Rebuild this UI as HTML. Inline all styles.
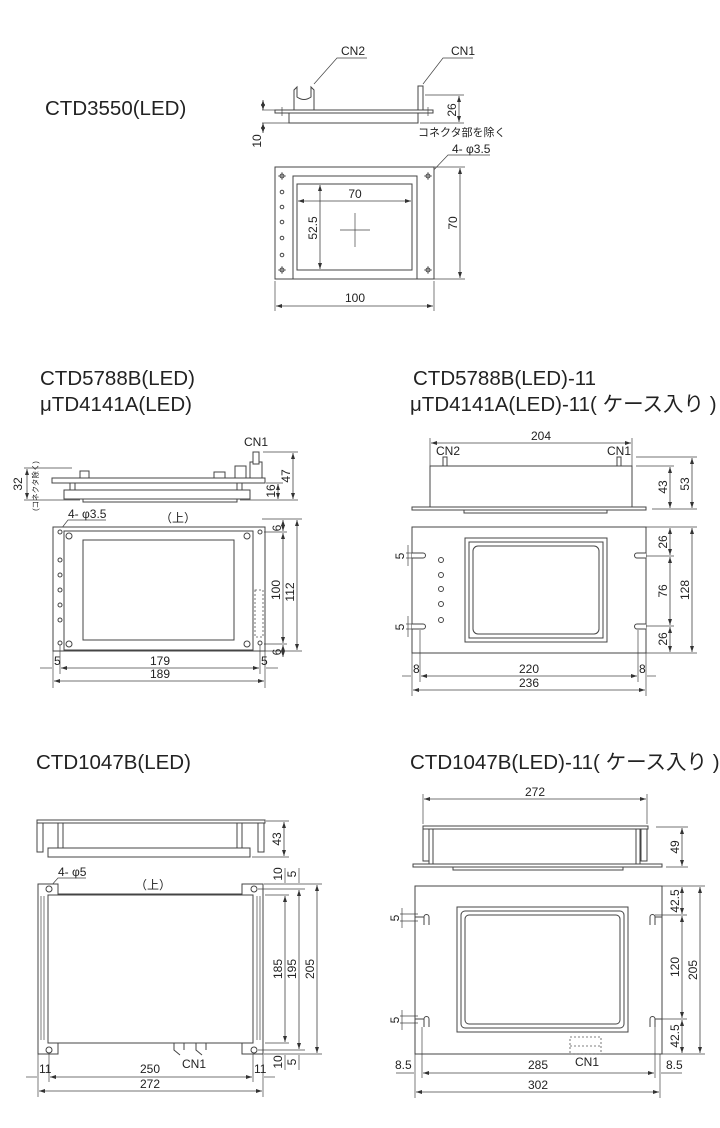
<!DOCTYPE html>
<html><head><meta charset="utf-8"><style>
html,body{margin:0;padding:0;background:#fff;}
svg{display:block;}
text{font-family:"Liberation Sans","Noto Sans CJK JP",sans-serif;fill:#222;}
.t{font-size:20.5px;}
.d{font-size:12px;}
.s{fill:none;stroke:#444;stroke-width:1;}
.f{fill:#fff;stroke:#444;stroke-width:1;}
.dim{stroke:#444;stroke-width:0.8;fill:none;marker-start:url(#a);marker-end:url(#a);}
.ln{stroke:#444;stroke-width:0.7;fill:none;}
.dash{fill:none;stroke:#555;stroke-width:0.8;stroke-dasharray:2 2;}
</style></head><body>
<svg width="720" height="1128" viewBox="0 0 720 1128" xmlns="http://www.w3.org/2000/svg">
<defs><marker id="a" markerWidth="6" markerHeight="6" refX="6" refY="3" orient="auto-start-reverse" markerUnits="userSpaceOnUse"><path d="M0,1 L6,3 L0,5z" fill="#333"/></marker></defs>

<!-- Titles -->
<text class="t" x="45" y="115">CTD3550(LED)</text>
<text class="t" x="40" y="385">CTD5788B(LED)</text>
<text class="t" x="40" y="411">μTD4141A(LED)</text>
<text class="t" x="413" y="385">CTD5788B(LED)-11</text>
<text class="t" x="410" y="411">μTD4141A(LED)-11( ケース入り )</text>
<text class="t" x="36" y="769">CTD1047B(LED)</text>
<text class="t" x="410" y="769">CTD1047B(LED)-11( ケース入り )</text>

<!-- ===== Section 1 ===== -->
<rect class="f" x="275" y="110" width="158" height="3"/>
<rect class="f" x="289" y="113" width="129" height="10"/>
<path class="s" d="M294,110 V90 L297,87 V97 Q304,102 311,97 V87 L314,90 V110"/>
<rect class="f" x="418" y="86" width="5" height="24"/>
<line class="ln" x1="282" y1="107" x2="282" y2="116"/><line class="ln" x1="428" y1="107" x2="428" y2="116"/>
<text class="d" x="341" y="55">CN2</text>
<polyline class="ln" points="367,58 337,58 314,84"/>
<text class="d" x="451" y="55">CN1</text>
<polyline class="ln" points="473,58 443,58 423,84"/>
<line class="ln" x1="425" y1="95" x2="464" y2="95"/><line class="ln" x1="420" y1="123" x2="464" y2="123"/>
<line class="dim" x1="459" y1="96" x2="459" y2="122"/>
<text class="d" transform="translate(456,110) rotate(-90)" text-anchor="middle">26</text>
<line class="ln" x1="262" y1="110" x2="275" y2="110"/><line class="ln" x1="262" y1="123" x2="289" y2="123"/>
<line class="dim" x1="263" y1="100" x2="263" y2="110"/><line class="dim" x1="263" y1="133" x2="263" y2="123"/>
<text class="d" transform="translate(261,141) rotate(-90)" text-anchor="middle">10</text>
<text x="418" y="136" style="font-size:11px">コネクタ部を除く</text>
<text class="d" x="452" y="153">4- φ3.5</text>
<polyline class="ln" points="490,155 448,155 429,175"/>
<rect class="f" x="275" y="167" width="159" height="112"/>
<rect class="s" x="293" y="176" width="124" height="103"/>
<rect class="s" x="297" y="184" width="115" height="86" style="fill:#fff"/>
<g class="ln"><line x1="340" y1="230" x2="370" y2="230"/><line x1="355" y1="213" x2="355" y2="247"/></g>
<g class="s">
<circle cx="282" cy="176" r="2"/><circle cx="282" cy="270" r="2"/><circle cx="428" cy="176" r="2"/><circle cx="428" cy="270" r="2"/>
<circle cx="282" cy="192" r="1.8"/><circle cx="282" cy="207" r="1.8"/><circle cx="282" cy="222" r="1.8"/><circle cx="282" cy="238" r="1.8"/><circle cx="282" cy="255" r="1.8"/>
</g>
<g class="ln"><line x1="278" y1="176" x2="286" y2="176"/><line x1="282" y1="172" x2="282" y2="180"/><line x1="278" y1="270" x2="286" y2="270"/><line x1="282" y1="266" x2="282" y2="274"/><line x1="424" y1="176" x2="432" y2="176"/><line x1="428" y1="172" x2="428" y2="180"/><line x1="424" y1="270" x2="432" y2="270"/><line x1="428" y1="266" x2="428" y2="274"/></g>
<line class="dim" x1="298" y1="201" x2="411" y2="201"/><text class="d" x="355" y="198" text-anchor="middle">70</text>
<line class="dim" x1="320" y1="185" x2="320" y2="269"/><text class="d" transform="translate(317,228) rotate(-90)" text-anchor="middle">52.5</text>
<line class="ln" x1="434" y1="167" x2="465" y2="167"/><line class="ln" x1="434" y1="279" x2="465" y2="279"/>
<line class="dim" x1="460" y1="168" x2="460" y2="278"/><text class="d" transform="translate(457,223) rotate(-90)" text-anchor="middle">70</text>
<line class="ln" x1="275" y1="281" x2="275" y2="311"/><line class="ln" x1="434" y1="281" x2="434" y2="311"/>
<line class="dim" x1="276" y1="306" x2="433" y2="306"/><text class="d" x="355" y="302" text-anchor="middle">100</text>

<!-- ===== Section 2 left ===== -->
<rect class="f" x="52" y="478" width="213" height="5"/>
<rect class="f" x="64" y="490" width="186" height="9"/>
<rect class="f" x="83" y="499" width="154" height="3"/>
<rect class="f" x="70" y="483" width="5" height="7"/><rect class="f" x="237" y="483" width="5" height="7"/>
<rect class="f" x="80" y="471" width="9" height="7"/><rect class="f" x="214" y="472" width="11" height="6"/>
<rect class="f" x="235" y="466" width="11" height="12"/>
<rect class="f" x="250" y="462" width="12" height="16"/><rect class="f" x="253" y="452" width="6" height="12"/>
<text class="d" x="244" y="446">CN1</text>
<line class="ln" x1="263" y1="452" x2="298" y2="452"/><line class="ln" x1="240" y1="500" x2="298" y2="500"/>
<line class="ln" x1="266" y1="483" x2="283" y2="483"/>
<line class="dim" x1="293" y1="453" x2="293" y2="499"/><text class="d" transform="translate(290,476) rotate(-90)" text-anchor="middle">47</text>
<line class="dim" x1="278" y1="484" x2="278" y2="499"/><text class="d" transform="translate(275,491) rotate(-90)" text-anchor="middle">16</text>
<line class="ln" x1="24" y1="468" x2="72" y2="468"/><line class="ln" x1="24" y1="500" x2="80" y2="500"/>
<line class="dim" x1="27" y1="469" x2="27" y2="499"/>
<text class="d" transform="translate(22,484) rotate(-90)" text-anchor="middle">32</text>
<text transform="translate(38,486) rotate(-90)" text-anchor="middle" style="font-size:7.5px">(コネクタ除く)</text>
<text class="d" x="68" y="518">4- φ3.5</text>
<polyline class="ln" points="106,520 68,520 61,529"/>
<text class="d" x="160" y="522">（上）</text>
<rect class="f" x="53" y="527" width="212" height="124"/>
<rect class="s" x="64" y="531" width="189" height="119"/>
<rect class="s" x="83" y="540" width="151" height="100" style="fill:#fff"/>
<g class="s">
<circle cx="69" cy="536" r="3"/><circle cx="247" cy="536" r="3"/><circle cx="69" cy="644" r="3"/><circle cx="247" cy="644" r="3"/>
<circle cx="60" cy="532" r="2"/><circle cx="60" cy="560" r="2"/><circle cx="60" cy="575" r="2"/><circle cx="60" cy="590" r="2"/><circle cx="60" cy="605" r="2"/><circle cx="60" cy="620" r="2"/><circle cx="60" cy="643" r="2"/>
<circle cx="260" cy="532" r="2"/><circle cx="260" cy="643" r="2"/>
</g>
<rect class="dash" x="255" y="590" width="8" height="47"/>
<line class="ln" x1="262" y1="519" x2="302" y2="519"/><line class="ln" x1="264" y1="532" x2="287" y2="532"/>
<line class="ln" x1="264" y1="644" x2="287" y2="644"/><line class="ln" x1="262" y1="651" x2="302" y2="651"/>
<line class="dim" x1="283" y1="520" x2="283" y2="531"/><text class="d" transform="translate(281,528) rotate(-90)" text-anchor="middle">6</text>
<line class="dim" x1="283" y1="533" x2="283" y2="643"/><text class="d" transform="translate(280,590) rotate(-90)" text-anchor="middle">100</text>
<line class="dim" x1="283" y1="645" x2="283" y2="657"/><text class="d" transform="translate(281,652) rotate(-90)" text-anchor="middle">6</text>
<line class="dim" x1="297" y1="520" x2="297" y2="650"/><text class="d" transform="translate(294,592) rotate(-90)" text-anchor="middle">112</text>
<line class="ln" x1="53" y1="651" x2="53" y2="688"/><line class="ln" x1="60" y1="645" x2="60" y2="674"/><line class="ln" x1="260" y1="645" x2="260" y2="674"/><line class="ln" x1="265" y1="651" x2="265" y2="688"/>
<line class="dim" x1="61" y1="668" x2="259" y2="668"/><text class="d" x="160" y="665" text-anchor="middle">179</text>
<line class="ln" x1="40" y1="668" x2="52" y2="668"/><line class="ln" x1="266" y1="668" x2="278" y2="668"/>
<text class="d" x="54" y="665">5</text><text class="d" x="261" y="665">5</text>
<line class="dim" x1="54" y1="681" x2="264" y2="681"/><text class="d" x="160" y="678" text-anchor="middle">189</text>

<!-- ===== Section 2 right ===== -->
<line class="ln" x1="430" y1="438" x2="430" y2="466"/><line class="ln" x1="632" y1="438" x2="632" y2="466"/>
<line class="dim" x1="431" y1="443" x2="631" y2="443"/><text class="d" x="541" y="440" text-anchor="middle">204</text>
<text class="d" x="436" y="455">CN2</text><text class="d" x="607" y="455">CN1</text>
<rect class="f" x="443" y="457" width="4" height="9"/><rect class="f" x="617" y="457" width="4" height="9"/>
<rect class="f" x="430" y="466" width="202" height="41"/>
<rect class="f" x="412" y="507" width="234" height="3"/>
<rect class="f" x="464" y="510" width="143" height="3"/>
<line class="ln" x1="636" y1="457" x2="697" y2="457"/><line class="ln" x1="636" y1="466" x2="674" y2="466"/><line class="ln" x1="652" y1="509" x2="697" y2="509"/>
<line class="dim" x1="670" y1="467" x2="670" y2="508"/><text class="d" transform="translate(667,487) rotate(-90)" text-anchor="middle">43</text>
<line class="dim" x1="692" y1="458" x2="692" y2="508"/><text class="d" transform="translate(689,484) rotate(-90)" text-anchor="middle">53</text>
<rect class="f" x="412" y="527" width="234" height="126"/>
<rect class="s" x="465" y="538" width="142" height="104"/>
<rect class="s" x="469" y="542" width="134" height="96"/>
<rect class="s" x="473" y="546" width="126" height="88" rx="5" style="fill:#fff"/>
<g class="s">
<path d="M412,553 H423 A2.5,2.5 0 0 1 423,558 H412" style="fill:#fff"/>
<path d="M412,624 H423 A2.5,2.5 0 0 1 423,629 H412" style="fill:#fff"/>
<path d="M646,553 H637 A2.5,2.5 0 0 0 637,558 H646" style="fill:#fff"/>
<path d="M646,624 H637 A2.5,2.5 0 0 0 637,629 H646" style="fill:#fff"/>
<circle cx="441" cy="560" r="2.5"/><circle cx="441" cy="575" r="2.5"/><circle cx="441" cy="589" r="2.5"/><circle cx="441" cy="604" r="2.5"/><circle cx="441" cy="620" r="2.5"/>
</g>
<line class="ln" x1="646" y1="527" x2="697" y2="527"/><line class="ln" x1="646" y1="556" x2="674" y2="556"/><line class="ln" x1="646" y1="626" x2="674" y2="626"/><line class="ln" x1="646" y1="653" x2="697" y2="653"/>
<line class="dim" x1="670" y1="528" x2="670" y2="555"/><text class="d" transform="translate(667,542) rotate(-90)" text-anchor="middle">26</text>
<line class="dim" x1="670" y1="557" x2="670" y2="625"/><text class="d" transform="translate(667,591) rotate(-90)" text-anchor="middle">76</text>
<line class="dim" x1="670" y1="627" x2="670" y2="652"/><text class="d" transform="translate(667,639) rotate(-90)" text-anchor="middle">26</text>
<line class="dim" x1="692" y1="528" x2="692" y2="652"/><text class="d" transform="translate(689,590) rotate(-90)" text-anchor="middle">128</text>
<g class="ln"><line x1="406" y1="553" x2="414" y2="553"/><line x1="406" y1="558" x2="414" y2="558"/><line x1="406" y1="624" x2="414" y2="624"/><line x1="406" y1="629" x2="414" y2="629"/><line x1="408" y1="545" x2="408" y2="566"/><line x1="408" y1="616" x2="408" y2="637"/></g>
<text class="d" transform="translate(404,556) rotate(-90)" text-anchor="middle">5</text>
<text class="d" transform="translate(404,627) rotate(-90)" text-anchor="middle">5</text>
<line class="ln" x1="412" y1="653" x2="412" y2="696"/><line class="ln" x1="420" y1="630" x2="420" y2="682"/><line class="ln" x1="638" y1="630" x2="638" y2="682"/><line class="ln" x1="646" y1="653" x2="646" y2="696"/>
<line class="dim" x1="421" y1="676" x2="637" y2="676"/><text class="d" x="529" y="673" text-anchor="middle">220</text>
<line class="ln" x1="402" y1="676" x2="411" y2="676"/><line class="ln" x1="647" y1="676" x2="656" y2="676"/>
<text class="d" x="413" y="673">8</text><text class="d" x="639" y="673">8</text>
<line class="dim" x1="413" y1="690" x2="645" y2="690"/><text class="d" x="529" y="687" text-anchor="middle">236</text>

<!-- ===== Section 3 left ===== -->
<rect class="f" x="37" y="820" width="228" height="3"/>
<rect class="f" x="48" y="848" width="202" height="9"/>
<rect class="f" x="37" y="823" width="6" height="29"/><rect class="f" x="58" y="823" width="5" height="25"/>
<rect class="f" x="237" y="823" width="5" height="25"/><rect class="f" x="258" y="823" width="6" height="29"/>
<line class="ln" x1="266" y1="821" x2="289" y2="821"/><line class="ln" x1="252" y1="857" x2="289" y2="857"/>
<line class="dim" x1="284" y1="822" x2="284" y2="856"/><text class="d" transform="translate(281,839) rotate(-90)" text-anchor="middle">43</text>
<text class="d" x="58" y="876">4- φ5</text>
<polyline class="ln" points="86,878 58,878 50,887"/>
<text class="d" x="135" y="889">（上）</text>
<path class="f" d="M38,884 H58 V894 H242 V884 H263 V1054 H242 V1043 H58 V1054 H38 Z"/>
<rect class="s" x="48" y="895" width="205" height="148" style="fill:#fff"/>
<line class="ln" x1="41" y1="896" x2="41" y2="1040"/><line class="ln" x1="44" y1="896" x2="44" y2="1040"/>
<line class="ln" x1="257" y1="896" x2="257" y2="1040"/><line class="ln" x1="260" y1="896" x2="260" y2="1040"/>
<g class="s"><circle cx="49" cy="889" r="3"/><circle cx="254" cy="889" r="3"/><circle cx="49" cy="1050" r="3"/><circle cx="254" cy="1050" r="3"/></g>
<path class="s" d="M174,1043 V1050 L180,1055 M184,1043 V1050 M196,1043 V1050 L202,1055 M206,1043 V1050"/>
<text class="d" x="182" y="1068">CN1</text>
<line class="ln" x1="264" y1="884" x2="322" y2="884"/><line class="ln" x1="258" y1="889" x2="305" y2="889"/><line class="ln" x1="265" y1="895" x2="289" y2="895"/>
<line class="ln" x1="265" y1="1043" x2="289" y2="1043"/><line class="ln" x1="258" y1="1050" x2="305" y2="1050"/><line class="ln" x1="264" y1="1054" x2="322" y2="1054"/>
<line class="dim" x1="285" y1="896" x2="285" y2="1042"/><text class="d" transform="translate(282,969) rotate(-90)" text-anchor="middle">185</text>
<line class="dim" x1="299" y1="890" x2="299" y2="1049"/><text class="d" transform="translate(296,969) rotate(-90)" text-anchor="middle">195</text>
<line class="dim" x1="317" y1="885" x2="317" y2="1053"/><text class="d" transform="translate(314,969) rotate(-90)" text-anchor="middle">205</text>
<line class="ln" x1="285" y1="868" x2="285" y2="883"/><line class="ln" x1="299" y1="868" x2="299" y2="883"/>
<text class="d" transform="translate(282,874) rotate(-90)" text-anchor="middle">10</text>
<text class="d" transform="translate(296,874) rotate(-90)" text-anchor="middle">5</text>
<line class="ln" x1="285" y1="1055" x2="285" y2="1070"/><line class="ln" x1="299" y1="1055" x2="299" y2="1070"/>
<text class="d" transform="translate(282,1062) rotate(-90)" text-anchor="middle">10</text>
<text class="d" transform="translate(296,1062) rotate(-90)" text-anchor="middle">5</text>
<line class="ln" x1="38" y1="1054" x2="38" y2="1097"/><line class="ln" x1="49" y1="1054" x2="49" y2="1082"/><line class="ln" x1="253" y1="1054" x2="253" y2="1082"/><line class="ln" x1="263" y1="1054" x2="263" y2="1097"/>
<line class="dim" x1="50" y1="1077" x2="252" y2="1077"/><text class="d" x="150" y="1073" text-anchor="middle">250</text>
<line class="ln" x1="26" y1="1077" x2="37" y2="1077"/><line class="ln" x1="264" y1="1077" x2="275" y2="1077"/>
<text class="d" x="39" y="1073">11</text><text class="d" x="254" y="1073">11</text>
<line class="dim" x1="39" y1="1091" x2="262" y2="1091"/><text class="d" x="150" y="1088" text-anchor="middle">272</text>

<!-- ===== Section 3 right ===== -->
<line class="ln" x1="423" y1="794" x2="423" y2="824"/><line class="ln" x1="647" y1="794" x2="647" y2="824"/>
<line class="dim" x1="424" y1="799" x2="646" y2="799"/><text class="d" x="535" y="796" text-anchor="middle">272</text>
<rect class="f" x="423" y="826" width="225" height="3"/>
<rect class="f" x="423" y="829" width="6" height="32"/><rect class="f" x="429" y="829" width="4" height="35"/>
<rect class="f" x="636" y="829" width="4" height="35"/><rect class="f" x="641" y="829" width="6" height="32"/>
<rect class="f" x="413" y="864" width="249" height="3"/>
<rect class="f" x="453" y="867" width="170" height="3"/>
<line class="ln" x1="656" y1="827" x2="688" y2="827"/><line class="ln" x1="666" y1="867" x2="688" y2="867"/>
<line class="dim" x1="682" y1="828" x2="682" y2="866"/><text class="d" transform="translate(679,847) rotate(-90)" text-anchor="middle">49</text>
<rect class="f" x="415" y="886" width="247" height="168"/>
<rect class="s" x="457" y="907" width="171" height="125"/>
<rect class="s" x="461" y="911" width="163" height="117" rx="4"/>
<rect class="s" x="465" y="915" width="155" height="109" rx="4" style="fill:#fff"/>
<g class="s">
<path d="M424,925 V917 A2.5,2.5 0 0 1 429,917 V925" style="fill:#fff"/>
<path d="M424,1027 V1019 A2.5,2.5 0 0 1 429,1019 V1027" style="fill:#fff"/>
<path d="M650,925 V917 A2.5,2.5 0 0 1 655,917 V925" style="fill:#fff"/>
<path d="M650,1027 V1019 A2.5,2.5 0 0 1 655,1019 V1027" style="fill:#fff"/>
<path d="M415,917 H424 M415,1019 H424 M655,917 H662 M655,1019 H662"/>
</g>
<g class="ln"><line x1="400" y1="914" x2="418" y2="914"/><line x1="400" y1="921" x2="418" y2="921"/><line x1="402" y1="908" x2="402" y2="928"/>
<line x1="400" y1="1016" x2="418" y2="1016"/><line x1="400" y1="1023" x2="418" y2="1023"/><line x1="402" y1="1010" x2="402" y2="1030"/></g>
<text class="d" transform="translate(399,918) rotate(-90)" text-anchor="middle">5</text>
<text class="d" transform="translate(399,1020) rotate(-90)" text-anchor="middle">5</text>
<rect class="dash" x="570" y="1037" width="31" height="17"/><line class="dash" x1="570" y1="1046" x2="601" y2="1046"/>
<text class="d" x="575" y="1066">CN1</text>
<line class="ln" x1="662" y1="886" x2="705" y2="886"/><line class="ln" x1="655" y1="915" x2="687" y2="915"/><line class="ln" x1="655" y1="1019" x2="687" y2="1019"/><line class="ln" x1="662" y1="1054" x2="705" y2="1054"/>
<line class="dim" x1="682" y1="887" x2="682" y2="914"/><text class="d" transform="translate(679,901) rotate(-90)" text-anchor="middle">42.5</text>
<line class="dim" x1="682" y1="916" x2="682" y2="1018"/><text class="d" transform="translate(679,967) rotate(-90)" text-anchor="middle">120</text>
<line class="dim" x1="682" y1="1020" x2="682" y2="1053"/><text class="d" transform="translate(679,1036) rotate(-90)" text-anchor="middle">42.5</text>
<line class="dim" x1="700" y1="887" x2="700" y2="1053"/><text class="d" transform="translate(697,970) rotate(-90)" text-anchor="middle">205</text>
<line class="ln" x1="415" y1="1054" x2="415" y2="1098"/><line class="ln" x1="422" y1="1027" x2="422" y2="1078"/><line class="ln" x1="655" y1="1027" x2="655" y2="1078"/><line class="ln" x1="660" y1="1054" x2="660" y2="1098"/>
<line class="dim" x1="423" y1="1073" x2="654" y2="1073"/><text class="d" x="538" y="1069" text-anchor="middle">285</text>
<line class="ln" x1="396" y1="1073" x2="414" y2="1073"/><line class="ln" x1="661" y1="1073" x2="682" y2="1073"/>
<text class="d" x="395" y="1069">8.5</text><text class="d" x="666" y="1069">8.5</text>
<line class="dim" x1="416" y1="1092" x2="659" y2="1092"/><text class="d" x="538" y="1089" text-anchor="middle">302</text>
</svg>
</body></html>
